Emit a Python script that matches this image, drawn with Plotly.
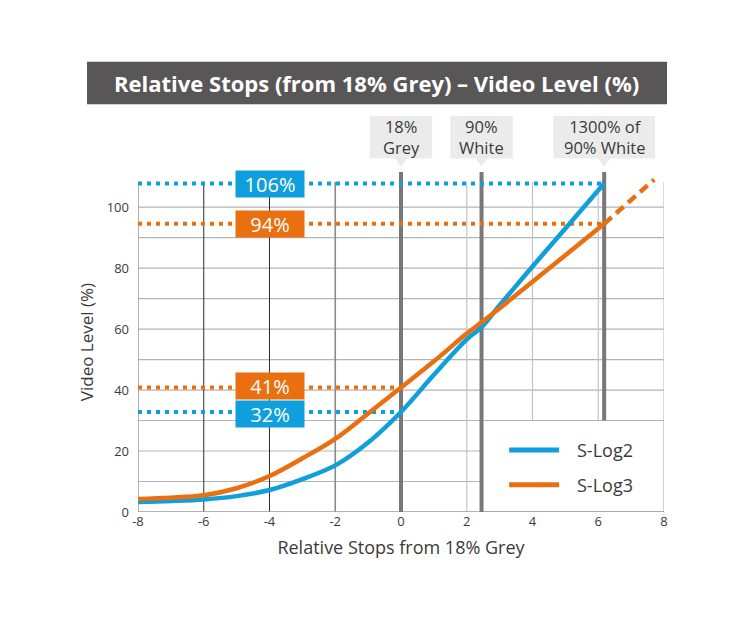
import plotly.graph_objects as go

# curves (relative stops vs video level %)
stops = [-8, -7, -6, -5, -4, -3, -2, -1, 0, 1, 2, 2.45, 3, 4, 5, 6.18]
slog2 = [3.3, 3.6, 4.1, 5.2, 7.2, 10.8, 15.3, 22.8, 32.8, 45.0, 56.6, 60.6, 67.8, 80.5, 93.0, 107.7]
slog3 = [4.3, 4.7, 5.5, 7.8, 11.8, 17.6, 24.0, 32.3, 40.8, 49.4, 58.5, 62.2, 66.8, 75.5, 84.2, 94.5]
slog3_ext_stops = [6.18, 7.7]
slog3_ext = [94.5, 109.0]

# reference points
marker_stops = [0, 2.45, 6.18]
marker_labels = ["18%<br>Grey", "90%<br>White", "1300% of<br>90% White"]

level_labels = ["106%", "94%", "41%", "32%"]
level_values = [107.7, 94.5, 40.8, 32.8]
level_end_stops = [6.18, 6.18, 0, 0]
level_series = ["S-Log2", "S-Log3", "S-Log3", "S-Log2"]

x_ticks = [-8, -6, -4, -2, 0, 2, 4, 6, 8]
y_ticks = [0, 20, 40, 60, 80, 100]
h_grid = [10, 20, 30, 40, 50, 60, 70, 80, 90, 100]

BLUE = "#0f9fdc"
ORANGE = "#ea6f10"
COLORS = {"S-Log2": BLUE, "S-Log3": ORANGE}
TEXT = "#3a3a3a"
FONT = "Open Sans"

GRID_TOP = 108.3
LEG_X0, LEG_Y1 = marker_stops[1], 30

fig = go.Figure()

fig.add_trace(go.Scatter(x=stops, y=slog2, name="S-Log2", mode="lines",
                         line=dict(color=BLUE, width=4.5, shape="spline", smoothing=1.0)))
fig.add_trace(go.Scatter(x=stops, y=slog3, name="S-Log3", mode="lines",
                         line=dict(color=ORANGE, width=4.5, shape="spline", smoothing=1.0)))
fig.add_trace(go.Scatter(x=slog3_ext_stops, y=slog3_ext, name="S-Log3 (ext)", mode="lines",
                         showlegend=False,
                         line=dict(color=ORANGE, width=4.5, dash="10px,6px")))

shapes = []

# horizontal grid (lower ones hidden behind legend box)
for v in h_grid:
    x1 = LEG_X0 if v < LEG_Y1 else 8
    shapes.append(dict(type="line", x0=-8, x1=x1, y0=v, y1=v,
                       line=dict(color="#b4b4b4", width=1.2)))

# vertical grid
v_grid = [(-6, "#2e2e2e", 1), (-4, "#2e2e2e", 1), (-2, "#8a8a8a", 1.6),
          (2, "#c4c4c4", 1.2), (4, "#c4c4c4", 1.2), (6, "#c4c4c4", 1.2), (8, "#c4c4c4", 1.2)]
for s, c, w in v_grid:
    y0 = LEG_Y1 if s > LEG_X0 else 0
    shapes.append(dict(type="line", x0=s, x1=s, y0=y0, y1=GRID_TOP, line=dict(color=c, width=w)))

# axes lines
shapes.append(dict(type="line", x0=-8, x1=-8, y0=0, y1=GRID_TOP, line=dict(color="#9a9a9a", width=1.5)))

# legend box
shapes.append(dict(type="rect", x0=LEG_X0, x1=8, y0=0, y1=LEG_Y1, fillcolor="white",
                   line=dict(color="#b4b4b4", width=1.2)))
shapes.append(dict(type="line", x0=-8, x1=8, y0=0, y1=0, line=dict(color="#9a9a9a", width=1.5)))

# thick reference markers
for s in marker_stops:
    y0 = LEG_Y1 if s > 4 else 0
    shapes.append(dict(type="line", x0=s, x1=s, y0=y0, y1=111.5, line=dict(color="#787878", width=4)))

# dotted level lines
for val, xe, ser in zip(level_values, level_end_stops, level_series):
    shapes.append(dict(type="line", x0=-8, x1=xe, y0=val, y1=val,
                       line=dict(color=COLORS[ser], width=4, dash="4px,5px")))

# callouts above plot
half_w = [0.95, 0.95, 1.55]
for s, hw in zip(marker_stops, half_w):
    shapes.append(dict(type="rect", xref="x", yref="paper", x0=s - hw, x1=s + hw,
                       y0=1.040, y1=1.165, fillcolor="#ebebeb", line=dict(width=0)))
    shapes.append(dict(type="path", xref="x", yref="paper",
                       path=f"M {s - 0.19},1.041 L {s + 0.19},1.041 L {s},1.016 Z",
                       fillcolor="#ebebeb", line=dict(width=0)))

# title bar
shapes.append(dict(type="rect", xref="paper", yref="paper", x0=-0.097, x1=1.0057,
                   y0=1.199, y1=1.3244, fillcolor="#595657", line=dict(width=0)))

# legend lines
for ser, yv in [("S-Log2", 20.3), ("S-Log3", 8.9)]:
    shapes.append(dict(type="line", x0=3.29, x1=4.81, y0=yv, y1=yv,
                       line=dict(color=COLORS[ser], width=5)))

for sh in shapes:
    sh["layer"] = "below"

annotations = []
annotations.append(dict(xref="paper", yref="paper", x=0.454, y=1.262,
                        xanchor="center", yanchor="middle",
                        text="<b>Relative Stops (from 18% Grey) – Video Level (%)</b>",
                        showarrow=False, font=dict(family=FONT, size=22, color="white")))

for s, lab in zip(marker_stops, marker_labels):
    annotations.append(dict(xref="x", yref="paper", x=s, y=1.104, text=lab, showarrow=False,
                            xanchor="center", yanchor="middle",
                            font=dict(family=FONT, size=16.5, color=TEXT)))

# the 41% / 32% badges sit stacked, nudge them apart a touch
badge_shift = [0, 0, 1.6, -1.6]
for lab, val, ser, dy in zip(level_labels, level_values, level_series, badge_shift):
    annotations.append(dict(x=-4, y=val, text=lab, showarrow=False, width=68, height=26,
                            xanchor="center", yanchor="middle", yshift=dy,
                            borderpad=0, bgcolor=COLORS[ser],
                            font=dict(family=FONT, size=20, color="white")))

for ser, yv in [("S-Log2", 20.3), ("S-Log3", 8.9)]:
    annotations.append(dict(x=5.29, y=yv, text=ser, xanchor="left", yanchor="middle",
                            showarrow=False, font=dict(family=FONT, size=18, color=TEXT)))

# page body adds an 8px offset, so the figure is 8px smaller than the window
fig.update_layout(
    width=747, height=612,
    margin=dict(l=130, r=91, t=164, b=108),
    paper_bgcolor="white", plot_bgcolor="white",
    showlegend=False,
    font=dict(family=FONT, color=TEXT),
    shapes=shapes, annotations=annotations,
    xaxis=dict(range=[-8, 8], tickvals=x_ticks, ticktext=[str(t) for t in x_ticks],
               showgrid=False, zeroline=False, showline=False, automargin=False,
               tickfont=dict(size=13, color=TEXT),
               title=dict(text="Relative Stops from 18% Grey", font=dict(size=18, color=TEXT),
                          standoff=12)),
    yaxis=dict(range=[0, 111.5], tickvals=y_ticks, showgrid=False, zeroline=False, showline=False,
               automargin=False, tickfont=dict(size=13, color=TEXT), ticklabelstandoff=8,
               title=dict(text="Video Level (%)", font=dict(size=17, color=TEXT), standoff=8)),
)

fig.write_html("out.html")
